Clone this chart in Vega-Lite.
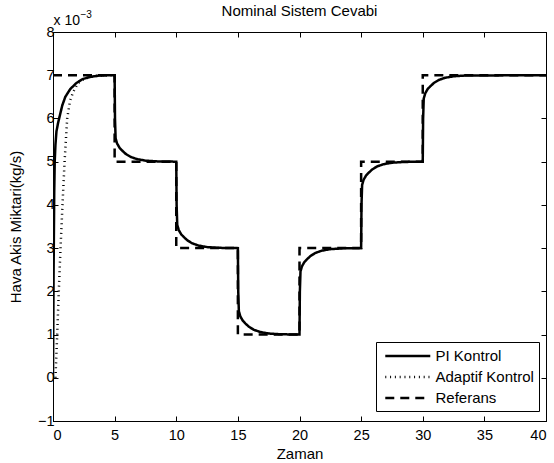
{
  "$schema": "https://vega.github.io/schema/vega-lite/v6.json",
  "width": 493,
  "height": 389,
  "autosize": {"type": "none"},
  "padding": {"left": 53, "top": 32, "right": 8, "bottom": 42},
  "background": "white",
  "title": {"text": "Nominal Sistem Cevabi", "font": "Liberation Sans", "fontSize": 15, "fontWeight": "normal", "color": "black", "offset": 12, "baseline": "alphabetic", "dy": 34},
  "datasets": {
    "curves": [
      {"t": 0, "v": 0, "s": "PI Kontrol"},
      {"t": 0.05, "v": 2.5, "s": "PI Kontrol"},
      {"t": 0.1, "v": 4.3, "s": "PI Kontrol"},
      {"t": 0.14, "v": 5.0, "s": "PI Kontrol"},
      {"t": 0.2, "v": 5.4, "s": "PI Kontrol"},
      {"t": 0.28, "v": 5.7, "s": "PI Kontrol"},
      {"t": 0.4, "v": 5.88, "s": "PI Kontrol"},
      {"t": 0.54, "v": 6.05, "s": "PI Kontrol"},
      {"t": 0.75, "v": 6.3, "s": "PI Kontrol"},
      {"t": 1.0, "v": 6.5, "s": "PI Kontrol"},
      {"t": 1.4, "v": 6.68, "s": "PI Kontrol"},
      {"t": 1.9, "v": 6.82, "s": "PI Kontrol"},
      {"t": 2.4, "v": 6.91, "s": "PI Kontrol"},
      {"t": 3.0, "v": 6.96, "s": "PI Kontrol"},
      {"t": 3.8, "v": 6.995, "s": "PI Kontrol"},
      {"t": 5.0, "v": 7.0, "s": "PI Kontrol"},
      {"t": 5.03, "v": 6.0, "s": "PI Kontrol"},
      {"t": 5.08, "v": 5.54, "s": "PI Kontrol"},
      {"t": 5.2, "v": 5.42, "s": "PI Kontrol"},
      {"t": 5.4, "v": 5.32, "s": "PI Kontrol"},
      {"t": 5.6, "v": 5.26, "s": "PI Kontrol"},
      {"t": 5.9, "v": 5.18, "s": "PI Kontrol"},
      {"t": 6.3, "v": 5.11, "s": "PI Kontrol"},
      {"t": 6.8, "v": 5.06, "s": "PI Kontrol"},
      {"t": 7.5, "v": 5.024, "s": "PI Kontrol"},
      {"t": 8.5, "v": 5.006, "s": "PI Kontrol"},
      {"t": 10.0, "v": 5.0, "s": "PI Kontrol"},
      {"t": 10.03, "v": 4.0, "s": "PI Kontrol"},
      {"t": 10.08, "v": 3.54, "s": "PI Kontrol"},
      {"t": 10.2, "v": 3.42, "s": "PI Kontrol"},
      {"t": 10.4, "v": 3.32, "s": "PI Kontrol"},
      {"t": 10.6, "v": 3.26, "s": "PI Kontrol"},
      {"t": 10.9, "v": 3.18, "s": "PI Kontrol"},
      {"t": 11.3, "v": 3.11, "s": "PI Kontrol"},
      {"t": 11.8, "v": 3.06, "s": "PI Kontrol"},
      {"t": 12.5, "v": 3.024, "s": "PI Kontrol"},
      {"t": 13.5, "v": 3.006, "s": "PI Kontrol"},
      {"t": 15.0, "v": 3.0, "s": "PI Kontrol"},
      {"t": 15.03, "v": 2.0, "s": "PI Kontrol"},
      {"t": 15.08, "v": 1.54, "s": "PI Kontrol"},
      {"t": 15.2, "v": 1.42, "s": "PI Kontrol"},
      {"t": 15.4, "v": 1.32, "s": "PI Kontrol"},
      {"t": 15.6, "v": 1.26, "s": "PI Kontrol"},
      {"t": 15.9, "v": 1.18, "s": "PI Kontrol"},
      {"t": 16.3, "v": 1.11, "s": "PI Kontrol"},
      {"t": 16.8, "v": 1.06, "s": "PI Kontrol"},
      {"t": 17.5, "v": 1.024, "s": "PI Kontrol"},
      {"t": 18.5, "v": 1.006, "s": "PI Kontrol"},
      {"t": 20.0, "v": 1.0, "s": "PI Kontrol"},
      {"t": 20.03, "v": 2.0, "s": "PI Kontrol"},
      {"t": 20.08, "v": 2.46, "s": "PI Kontrol"},
      {"t": 20.2, "v": 2.58, "s": "PI Kontrol"},
      {"t": 20.4, "v": 2.68, "s": "PI Kontrol"},
      {"t": 20.6, "v": 2.74, "s": "PI Kontrol"},
      {"t": 20.9, "v": 2.82, "s": "PI Kontrol"},
      {"t": 21.3, "v": 2.89, "s": "PI Kontrol"},
      {"t": 21.8, "v": 2.94, "s": "PI Kontrol"},
      {"t": 22.5, "v": 2.976, "s": "PI Kontrol"},
      {"t": 23.5, "v": 2.994, "s": "PI Kontrol"},
      {"t": 25.0, "v": 3.0, "s": "PI Kontrol"},
      {"t": 25.03, "v": 4.0, "s": "PI Kontrol"},
      {"t": 25.08, "v": 4.46, "s": "PI Kontrol"},
      {"t": 25.2, "v": 4.58, "s": "PI Kontrol"},
      {"t": 25.4, "v": 4.68, "s": "PI Kontrol"},
      {"t": 25.6, "v": 4.74, "s": "PI Kontrol"},
      {"t": 25.9, "v": 4.82, "s": "PI Kontrol"},
      {"t": 26.3, "v": 4.89, "s": "PI Kontrol"},
      {"t": 26.8, "v": 4.94, "s": "PI Kontrol"},
      {"t": 27.5, "v": 4.976, "s": "PI Kontrol"},
      {"t": 28.5, "v": 4.994, "s": "PI Kontrol"},
      {"t": 30.0, "v": 5.0, "s": "PI Kontrol"},
      {"t": 30.03, "v": 6.0, "s": "PI Kontrol"},
      {"t": 30.08, "v": 6.46, "s": "PI Kontrol"},
      {"t": 30.2, "v": 6.58, "s": "PI Kontrol"},
      {"t": 30.4, "v": 6.68, "s": "PI Kontrol"},
      {"t": 30.6, "v": 6.74, "s": "PI Kontrol"},
      {"t": 30.9, "v": 6.82, "s": "PI Kontrol"},
      {"t": 31.3, "v": 6.89, "s": "PI Kontrol"},
      {"t": 31.8, "v": 6.94, "s": "PI Kontrol"},
      {"t": 32.5, "v": 6.976, "s": "PI Kontrol"},
      {"t": 33.5, "v": 6.994, "s": "PI Kontrol"},
      {"t": 40.0, "v": 7.0, "s": "PI Kontrol"},
      {"t": 0.2, "v": 0, "s": "Adaptif Kontrol"},
      {"t": 0.34, "v": 1, "s": "Adaptif Kontrol"},
      {"t": 0.47, "v": 2, "s": "Adaptif Kontrol"},
      {"t": 0.61, "v": 3, "s": "Adaptif Kontrol"},
      {"t": 0.77, "v": 4, "s": "Adaptif Kontrol"},
      {"t": 0.94, "v": 5, "s": "Adaptif Kontrol"},
      {"t": 1.15, "v": 6, "s": "Adaptif Kontrol"},
      {"t": 1.38, "v": 6.4, "s": "Adaptif Kontrol"},
      {"t": 1.62, "v": 6.6, "s": "Adaptif Kontrol"},
      {"t": 2.03, "v": 6.82, "s": "Adaptif Kontrol"},
      {"t": 2.5, "v": 6.91, "s": "Adaptif Kontrol"},
      {"t": 3.0, "v": 6.96, "s": "Adaptif Kontrol"},
      {"t": 3.8, "v": 6.995, "s": "Adaptif Kontrol"},
      {"t": 5.0, "v": 7.0, "s": "Adaptif Kontrol"},
      {"t": 0, "v": 7, "s": "Referans"},
      {"t": 5, "v": 7, "s": "Referans"},
      {"t": 5, "v": 5, "s": "Referans"},
      {"t": 10, "v": 5, "s": "Referans"},
      {"t": 10, "v": 3, "s": "Referans"},
      {"t": 15, "v": 3, "s": "Referans"},
      {"t": 15, "v": 1, "s": "Referans"},
      {"t": 20, "v": 1, "s": "Referans"},
      {"t": 20, "v": 3, "s": "Referans"},
      {"t": 25, "v": 3, "s": "Referans"},
      {"t": 25, "v": 5, "s": "Referans"},
      {"t": 30, "v": 5, "s": "Referans"},
      {"t": 30, "v": 7, "s": "Referans"},
      {"t": 40, "v": 7, "s": "Referans"}
    ]
  },
  "data": {"name": "curves"},
  "layer": [
    {
      "mark": {"type": "line", "color": "black", "strokeWidth": 2.5, "strokeCap": "butt", "clip": true},
      "encoding": {
        "x": {"field": "t", "type": "quantitative", "scale": {"domain": [0, 40], "nice": false, "zero": false},
              "axis": {"orient": "bottom", "values": [0, 5, 10, 15, 20, 25, 30, 35, 40], "title": "Zaman", "tickSize": -5, "labelPadding": 12, "titlePadding": 5}},
        "y": {"field": "v", "type": "quantitative", "scale": {"domain": [-1, 8], "nice": false, "zero": false},
              "axis": {"orient": "left", "values": [-1, 0, 1, 2, 3, 4, 5, 6, 7, 8], "title": "Hava Akis Miktari(kg/s)", "tickSize": -5, "labelPadding": 4, "titlePadding": 14}},
        "strokeDash": {"field": "s", "type": "nominal",
              "scale": {"domain": ["PI Kontrol", "Adaptif Kontrol", "Referans"], "range": [[1, 0], [1, 3.8], [9, 6]]},
              "legend": {"title": null, "orient": "none", "legendX": 323, "legendY": 310}},
        "order": {"value": null}
      }
    },
    {
      "mark": {"type": "line", "opacity": 0},
      "encoding": {
        "x": {"field": "t", "type": "quantitative",
              "axis": {"orient": "top", "values": [0, 5, 10, 15, 20, 25, 30, 35, 40], "labels": false, "tickSize": -5,
                       "title": "x 10", "titleX": 0, "titleY": -8, "titleAlign": "left", "titleBaseline": "alphabetic", "titleFontSize": 14}},
        "y": {"field": "v", "type": "quantitative",
              "axis": {"orient": "right", "values": [-1, 0, 1, 2, 3, 4, 5, 6, 7, 8], "labels": false, "tickSize": -5,
                       "title": "−3", "titleAngle": 0, "titleX": -466, "titleY": -15, "titleAlign": "left", "titleBaseline": "alphabetic", "titleFontSize": 10}}
      }
    }
  ],
  "resolve": {"axis": {"x": "independent", "y": "independent"}},
  "config": {
    "view": {"stroke": "black", "strokeWidth": 1},
    "axis": {"grid": false, "domainColor": "black", "tickColor": "black", "labelColor": "black", "titleColor": "black",
             "labelFont": "Liberation Sans", "titleFont": "Liberation Sans", "labelFontSize": 14.5, "titleFontSize": 15,
             "titleFontWeight": "normal", "domainWidth": 1, "tickWidth": 1},
    "legend": {"strokeColor": "black", "fillColor": "white", "padding": 5, "symbolType": "M-0.63,0H5.37", "symbolSize": 225,
               "symbolStrokeWidth": 2.5, "symbolStrokeColor": "black", "labelFont": "Liberation Sans", "labelFontSize": 15,
               "labelColor": "black", "cornerRadius": 0, "rowPadding": 4, "labelOffset": 36.5}
  }
}
